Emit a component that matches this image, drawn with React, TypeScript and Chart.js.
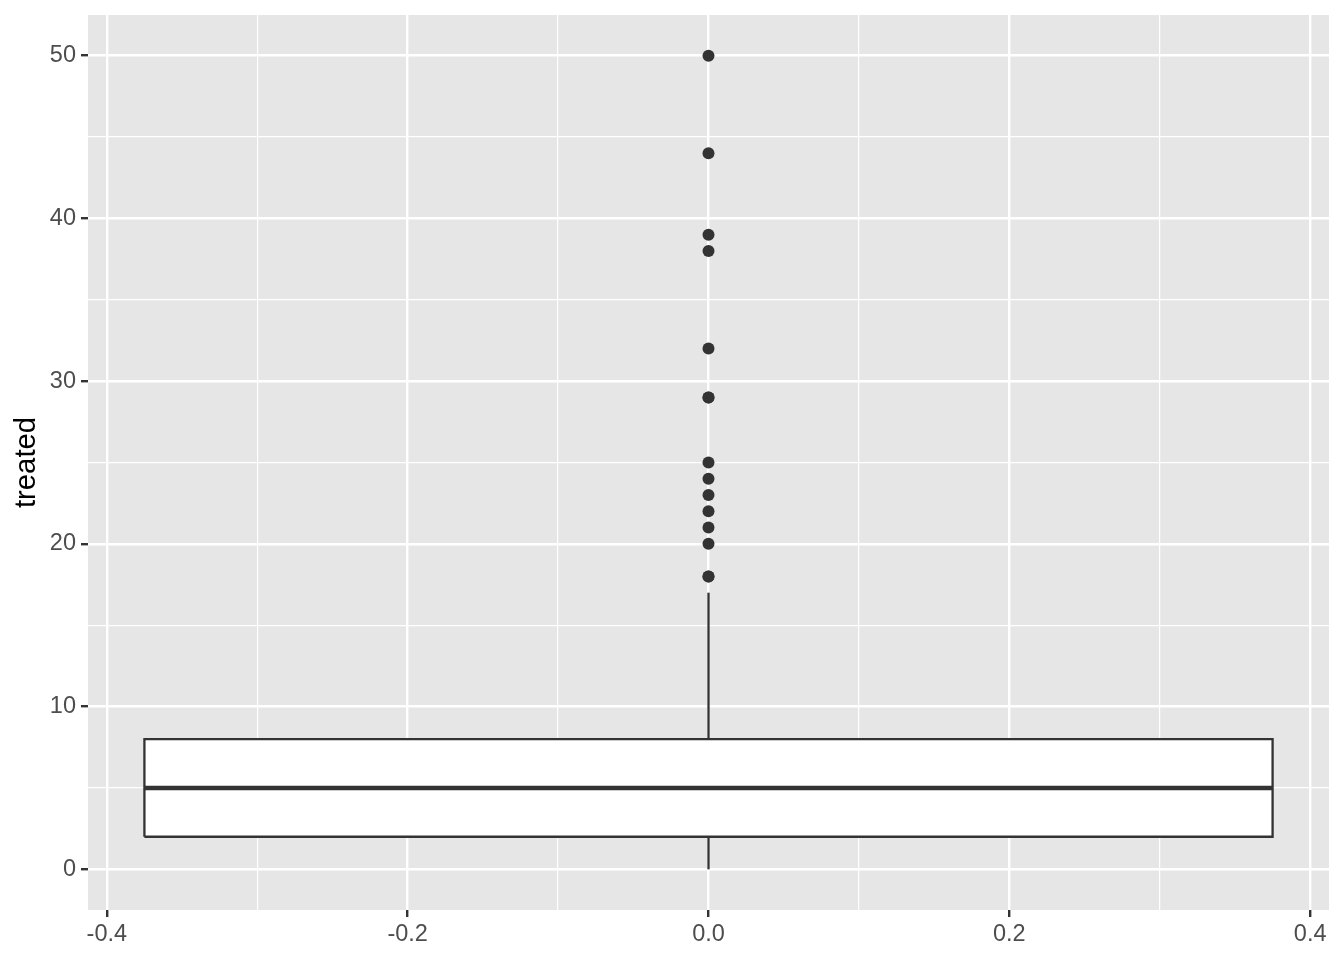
import React, { useEffect, useRef } from "react";
import { Chart, registerables } from "chart.js";

Chart.register(...registerables);

// ---- data ----
const groupPosition = 0;
const boxWidth = 0.75;
const quartiles = [2, 5, 8]; // Q1, median, Q3
const whiskers = [0, 17]; // lower, upper
const outliers = [18, 18, 20, 21, 22, 23, 24, 25, 29, 29, 32, 38, 39, 44, 50];
const xMajorTicks = [-0.4, -0.2, 0.0, 0.2, 0.4];
const xMinorTicks = [-0.3, -0.1, 0.1, 0.3];
const yMajorTicks = [0, 10, 20, 30, 40, 50];
const yMinorTicks = [5, 15, 25, 35, 45];
const yTitle = "treated";

const FONT = "'Liberation Sans', Arial, Helvetica, sans-serif";
const INK = "#333333";

const isMajor = (v: number, majors: number[]) =>
  majors.some((m) => Math.abs(m - v) < 1e-9);

export default function App() {
  const ref = useRef<HTMLCanvasElement | null>(null);

  useEffect(() => {
    document.body.style.margin = "0";
    const canvas = ref.current;
    if (!canvas) return;

    const x0 = groupPosition - boxWidth / 2;
    const x1 = groupPosition + boxWidth / 2;
    const [q1, med, q3] = quartiles;

    const panelBg = {
      id: "panelBg",
      beforeDraw(chart: any) {
        const { ctx, chartArea } = chart;
        ctx.save();
        ctx.fillStyle = "#E6E6E6";
        ctx.fillRect(
          chartArea.left,
          chartArea.top,
          chartArea.right - chartArea.left,
          chartArea.bottom - chartArea.top
        );
        ctx.restore();
      },
    };

    const xAll = [...xMajorTicks, ...xMinorTicks].sort((a, b) => a - b);
    const yAll = [...yMajorTicks, ...yMinorTicks].sort((a, b) => a - b);

    const chart = new Chart(canvas, {
      type: "scatter",
      data: {
        datasets: [
          {
            label: "outliers",
            data: outliers.map((v) => ({ x: groupPosition, y: v })),
            backgroundColor: INK,
            borderWidth: 0,
            pointRadius: 6,
            order: 0,
          } as any,
          {
            label: "median",
            data: [
              { x: x0, y: med },
              { x: x1, y: med },
            ],
            showLine: true,
            borderColor: INK,
            borderWidth: 4.6,
            pointRadius: 0,
            borderCapStyle: "butt",
            order: 1,
          } as any,
          {
            label: "box",
            data: [
              { x: x0, y: q1 },
              { x: x1, y: q1 },
              { x: x1, y: q3 },
              { x: x0, y: q3 },
              { x: x0, y: q1 },
            ],
            showLine: true,
            fill: "shape",
            backgroundColor: "#FFFFFF",
            borderColor: INK,
            borderWidth: 2.3,
            borderJoinStyle: "miter",
            pointRadius: 0,
            order: 2,
          } as any,
          {
            label: "lowerWhisker",
            data: [
              { x: groupPosition, y: whiskers[0] },
              { x: groupPosition, y: q1 },
            ],
            showLine: true,
            borderColor: INK,
            borderWidth: 2.3,
            pointRadius: 0,
            order: 3,
          } as any,
          {
            label: "upperWhisker",
            data: [
              { x: groupPosition, y: q3 },
              { x: groupPosition, y: whiskers[1] },
            ],
            showLine: true,
            borderColor: INK,
            borderWidth: 2.3,
            pointRadius: 0,
            order: 3,
          } as any,
        ],
      },
      options: {
        responsive: false,
        animation: false,
        events: [],
        layout: { padding: { left: 0, top: 15, right: 15, bottom: 0 } },
        plugins: {
          legend: { display: false },
          tooltip: { enabled: false },
          title: { display: false },
        },
        scales: {
          x: {
            type: "linear",
            min: -0.4125,
            max: 0.4125,
            afterBuildTicks: (scale: any) => {
              scale.ticks = xAll.map((v) => ({ value: v }));
            },
            afterFit: (scale: any) => {
              scale.height = 50;
              scale.paddingLeft = 0;
              scale.paddingRight = 0;
            },
            border: { display: false },
            grid: {
              color: "#FFFFFF",
              lineWidth: (c: any) => (isMajor(c.tick.value, xMajorTicks) ? 2.4 : 1.2),
              tickColor: (c: any) =>
                isMajor(c.tick.value, xMajorTicks) ? INK : "rgba(0,0,0,0)",
              tickWidth: 2.4,
              tickLength: 7,
              drawTicks: true,
            },
            ticks: {
              autoSkip: false,
              maxRotation: 0,
              padding: 3,
              color: "#4D4D4D",
              font: { family: FONT, size: 23.5 },
              callback: (v: any) =>
                isMajor(Number(v), xMajorTicks) ? Number(v).toFixed(1) : "",
            },
          },
          y: {
            type: "linear",
            min: -2.5,
            max: 52.5,
            afterBuildTicks: (scale: any) => {
              scale.ticks = yAll.map((v) => ({ value: v }));
            },
            afterFit: (scale: any) => {
              scale.width = 88;
              scale.paddingTop = 0;
              scale.paddingBottom = 0;
            },
            border: { display: false },
            grid: {
              color: "#FFFFFF",
              lineWidth: (c: any) => (isMajor(c.tick.value, yMajorTicks) ? 2.4 : 1.2),
              tickColor: (c: any) =>
                isMajor(c.tick.value, yMajorTicks) ? INK : "rgba(0,0,0,0)",
              tickWidth: 2.4,
              tickLength: 7,
              drawTicks: true,
            },
            ticks: {
              autoSkip: false,
              padding: 5,
              color: "#4D4D4D",
              font: { family: FONT, size: 23.5 },
              callback: (v: any) =>
                isMajor(Number(v), yMajorTicks) ? String(Number(v)) : "",
            },
            title: {
              display: true,
              text: yTitle,
              color: "#000000",
              font: { family: FONT, size: 29.3, lineHeight: 1.2 },
              padding: { top: 9, bottom: 0 },
            },
          },
        },
      },
      plugins: [panelBg],
    } as any);

    return () => chart.destroy();
  }, []);

  return (
    <div style={{ position: "absolute", left: 0, top: 0, width: 1344, height: 960 }}>
      <canvas ref={ref} width={1344} height={960} style={{ width: 1344, height: 960 }} />
    </div>
  );
}
